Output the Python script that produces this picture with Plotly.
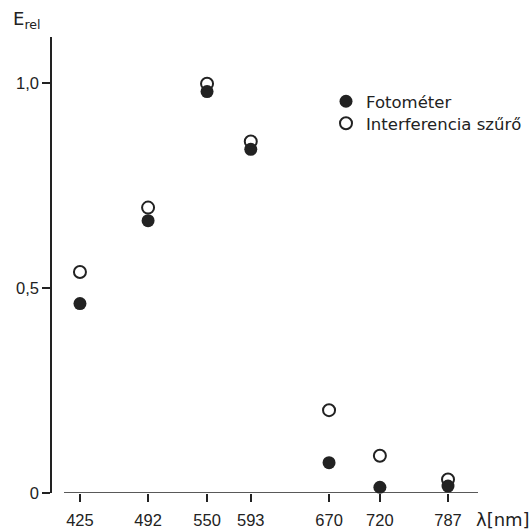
import plotly.graph_objects as go

# Data
wavelengths = [425, 492, 550, 593, 670, 720, 787]
fotometer = [0.462, 0.664, 0.979, 0.838, 0.074, 0.014, 0.017]
interferencia = [0.539, 0.696, 0.998, 0.857, 0.202, 0.091, 0.033]
x_tick_labels = ["425", "492", "550", "593", "670", "720", "787"]
y_tick_vals = [0, 0.5, 1.0]
y_tick_labels = ["0", "0,5", "1,0"]

INK = "#222222"
TICK_FONT = dict(family="Liberation Sans, sans-serif", size=16.5, color=INK)
TEXT_FONT = dict(family="DejaVu Sans, sans-serif", size=16.5, color=INK)

PLOT_W, PLOT_H = 426, 456

fig = go.Figure()
fig.add_trace(go.Scatter(
    x=wavelengths, y=fotometer, mode="markers", name="Fotométer",
    marker=dict(symbol="circle", size=13, color=INK),
    cliponaxis=False, legend="legend",
))
fig.add_trace(go.Scatter(
    x=wavelengths, y=interferencia, mode="markers", name="Interferencia szűrő",
    marker=dict(symbol="circle-open", size=12, color=INK, line=dict(width=2, color=INK)),
    cliponaxis=False, legend="legend2",
))

x_min, x_max = 397.5, 816.5
fig.add_shape(type="line", xref="x", yref="y", x0=409.3, x1=x_max, y0=0, y1=0,
              line=dict(color=INK, width=1.5))

legend_common = dict(xanchor="left", yanchor="top", font=TEXT_FONT,
                     bgcolor="rgba(0,0,0,0)", borderwidth=0)

fig.update_layout(
    width=531, height=530,
    margin=dict(l=52, r=53, t=37, b=37, autoexpand=False),
    paper_bgcolor="white", plot_bgcolor="white",
    showlegend=True,
    legend=dict(x=(326 - 52) / PLOT_W, y=(493 - 84) / PLOT_H, **legend_common),
    legend2=dict(x=(326 - 52) / PLOT_W, y=(493 - 106) / PLOT_H, **legend_common),
    xaxis=dict(range=[x_min, x_max], showgrid=False, zeroline=False, showline=False,
               tickmode="array", tickvals=wavelengths, ticktext=x_tick_labels,
               ticks="outside", ticklen=8, tickwidth=1.5, tickcolor=INK,
               tickfont=TICK_FONT, ticklabelstandoff=4, automargin=False),
    yaxis=dict(range=[0, 1.112], showgrid=False, zeroline=False,
               showline=True, linewidth=1.5, linecolor=INK,
               tickmode="array", tickvals=y_tick_vals, ticktext=y_tick_labels,
               ticks="outside", ticklen=8, tickwidth=1.5, tickcolor=INK,
               tickfont=TICK_FONT, automargin=False),
    annotations=[
        dict(text="E<sub>rel</sub>", xref="paper", yref="paper",
             x=-41 / PLOT_W, y=1 + 17 / PLOT_H, xanchor="left", yanchor="middle",
             showarrow=False, font=dict(family="DejaVu Sans, sans-serif", size=18, color=INK)),
        dict(text="λ[nm]", xref="paper", yref="paper",
             x=(474 - 52) / PLOT_W, y=-26 / PLOT_H, xanchor="left", yanchor="middle",
             showarrow=False, font=dict(family="DejaVu Sans, sans-serif", size=18, color=INK)),
    ],
)

fig.write_html(
    "out.html",
    config={"displayModeBar": False},
    post_script="document.body.style.margin='0';document.body.style.overflow='hidden';",
)
